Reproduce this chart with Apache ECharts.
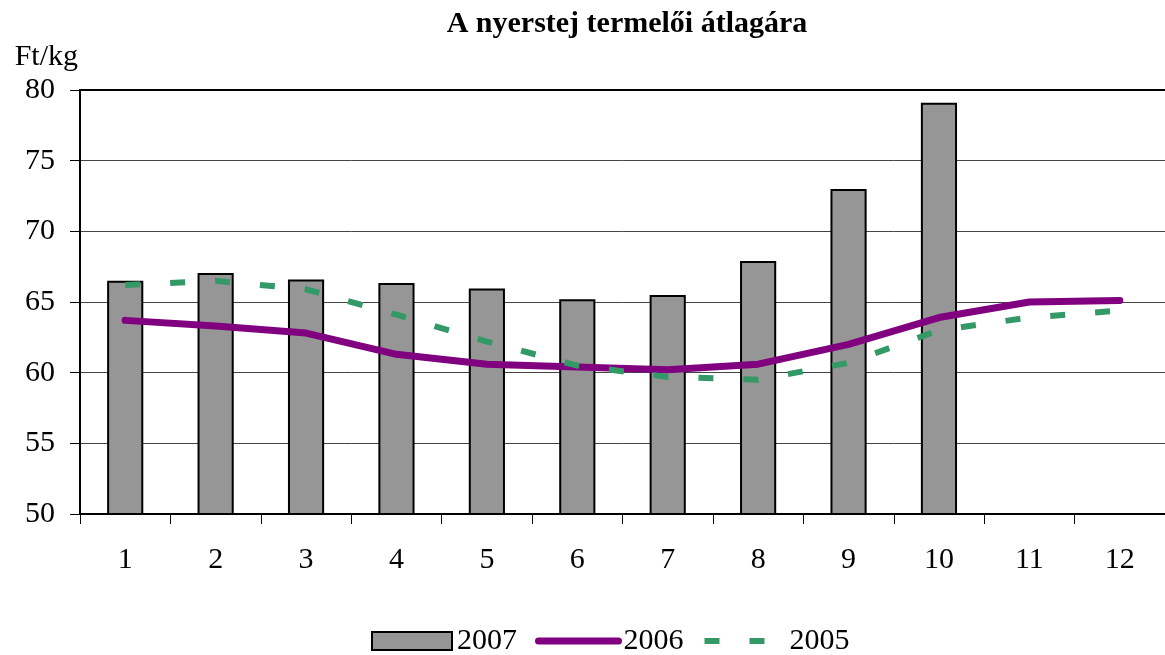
<!DOCTYPE html>
<html>
<head>
<meta charset="utf-8">
<script src="https://cdn.jsdelivr.net/npm/echarts@6/dist/echarts.min.js"></script>
<style>
  html, body { margin: 0; padding: 0; background: #fff; }
  #main { width: 1165px; height: 655px; }
</style>
</head>
<body>
<div id="main"></div>
<script>
// honapok
const months = ['1', '2', '3', '4', '5', '6', '7', '8', '9', '10', '11', '12'];
// Ft/kg
const y2007 = [66.5, 67.05, 66.6, 66.35, 65.95, 65.2, 65.5, 67.9, 73.0, 79.1, null, null];
const y2006 = [63.7, 63.3, 62.8, 61.3, 60.6, 60.4, 60.2, 60.6, 62.0, 63.9, 65.0, 65.1];
const y2005 = [66.2, 66.5, 65.9, 64.1, 62.2, 60.5, 59.7, 59.5, 60.7, 63.0, 63.9, 64.4];

const serif = '"Liberation Serif", "Times New Roman", serif';
const chart = echarts.init(document.getElementById('main'));

chart.setOption({
  animation: false,
  title: {
    text: 'A nyerstej termelői átlagára',
    left: 622,
    textAlign: 'center',
    top: 4,
    textStyle: { fontFamily: serif, fontSize: 30, fontWeight: 'bold', color: '#000' }
  },
  legend: {
    left: 366,
    top: 621,
    itemWidth: 80,
    itemHeight: 18,
    itemGap: 18,
    textStyle: { fontFamily: serif, fontSize: 30, color: '#000' },
    data: [
      { name: '2007', icon: 'rect' },
      { name: '2006', itemStyle: { opacity: 0 }, lineStyle: { width: 7 } },
      { name: '2005', itemStyle: { opacity: 0 }, lineStyle: { width: 6 } }
    ]
  },
  grid: { left: 80, right: 0, top: 90, bottom: 141, containLabel: false },
  xAxis: [
    {
      type: 'category',
      data: months,
      boundaryGap: true,
      axisLine: { lineStyle: { color: '#000', width: 2 } },
      axisTick: { show: true, length: 10, lineStyle: { color: '#000' } },
      axisLabel: { fontFamily: serif, fontSize: 30, color: '#000', margin: 31 }
    },
    {
      // felso keret
      type: 'category',
      data: months,
      position: 'top',
      axisLine: { lineStyle: { color: '#000', width: 2 } },
      axisTick: { show: false },
      axisLabel: { show: false }
    }
  ],
  yAxis: {
    type: 'value',
    min: 50,
    max: 80,
    interval: 5,
    name: 'Ft/kg',
    nameLocation: 'end',
    nameGap: 18,
    nameTextStyle: { fontFamily: serif, fontSize: 30, color: '#000', align: 'right', verticalAlign: 'bottom', padding: [0, 2, 0, 0] },
    axisLine: { show: true, lineStyle: { color: '#000', width: 2 } },
    axisTick: { show: true, length: 10, lineStyle: { color: '#000' } },
    axisLabel: { fontFamily: serif, fontSize: 30, color: '#000', margin: 25 },
    splitLine: { show: true, lineStyle: { color: '#444', width: 1 } }
  },
  series: [
    {
      name: '2007',
      type: 'bar',
      data: y2007,
      barWidth: '40%',
      itemStyle: { color: '#969696', borderColor: '#000', borderWidth: 2 }
    },
    {
      name: '2006',
      type: 'line',
      data: y2006,
      symbol: 'none',
      lineStyle: { color: '#800080', width: 7, cap: 'round' },
      itemStyle: { color: '#800080' }
    },
    {
      name: '2005',
      type: 'line',
      data: y2005,
      symbol: 'none',
      lineStyle: { color: '#339966', width: 6, type: [15, 30] },
      itemStyle: { color: '#339966' }
    }
  ]
});
</script>
</body>
</html>
